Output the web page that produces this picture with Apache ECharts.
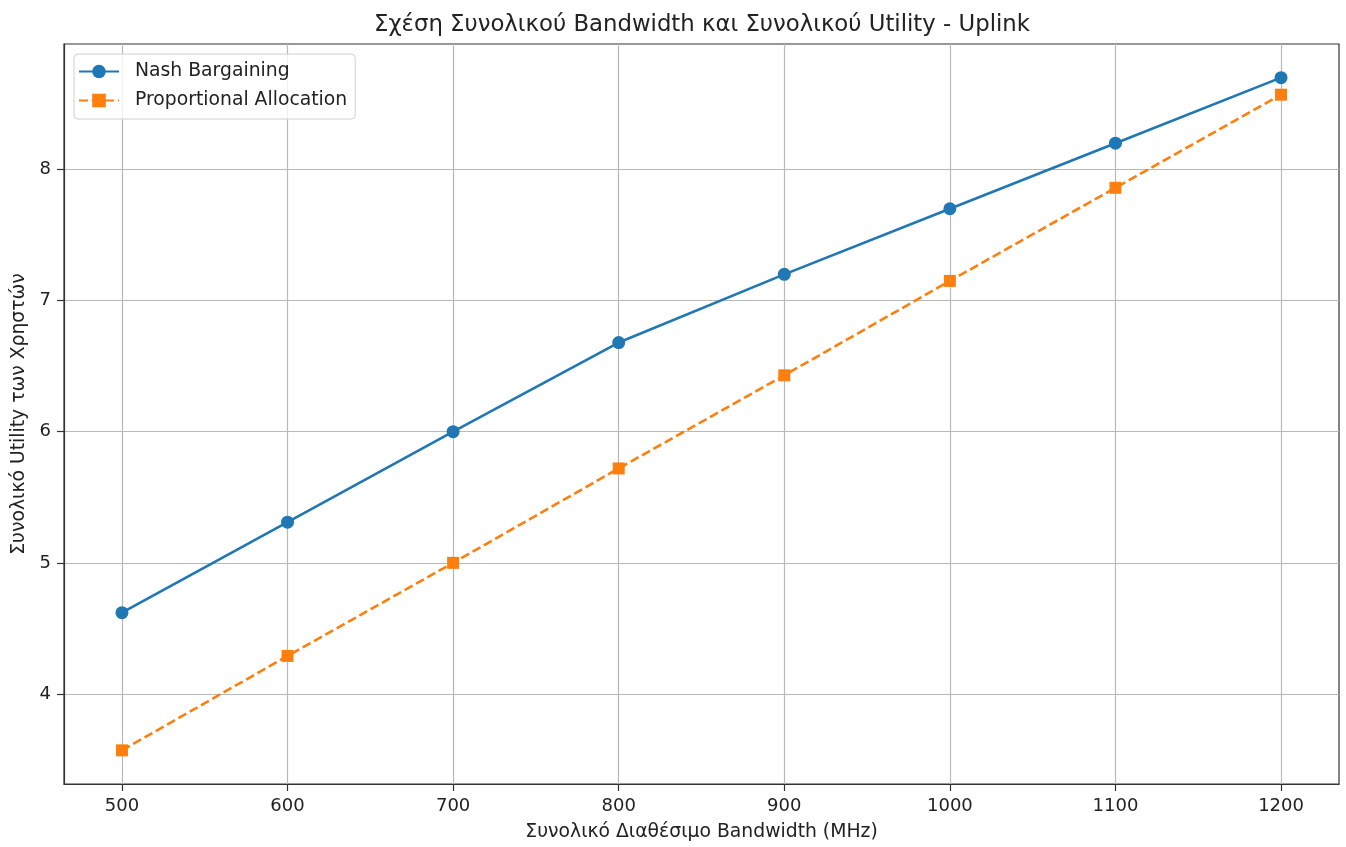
<!DOCTYPE html>
<html>
<head>
<meta charset="utf-8">
<script src="https://cdn.jsdelivr.net/npm/echarts@6/dist/echarts.min.js"></script>
<style>
  html, body { margin: 0; padding: 0; background: #fff; }
  #chart { width: 1346px; height: 847px; }
</style>
</head>
<body>
<div id="chart"></div>
<script>
// Total available bandwidth (MHz)
const bandwidth = [500, 600, 700, 800, 900, 1000, 1100, 1200];
// Total user utility per allocation scheme
const nashBargaining = [4.62, 5.31, 6.00, 6.68, 7.20, 7.70, 8.20, 8.70];
const proportionalAllocation = [3.57, 4.29, 5.00, 5.72, 6.43, 7.15, 7.86, 8.57];
// Tick positions
const xTicks = [500, 600, 700, 800, 900, 1000, 1100, 1200];
const yTicks = [4, 5, 6, 7, 8];

// Axis extents padded by 5% of the data span on each side
function padded(values) {
  const lo = Math.min(...values), hi = Math.max(...values);
  const m = (hi - lo) * 0.05;
  return [lo - m, hi + m];
}
const xExt = padded(bandwidth);
const yExt = padded(nashBargaining.concat(proportionalAllocation));

const FONT = "'DejaVu Sans'";
const INK = '#333333';
const TEXT = '#222222';
const GRID = '#b8b8b8';

const chart = echarts.init(document.getElementById('chart'), null, { renderer: 'canvas' });

chart.setOption({
  backgroundColor: '#ffffff',
  animation: false,
  title: {
    text: 'Σχέση Συνολικού Bandwidth και Συνολικού Utility - Uplink',
    left: 697, top: 9, textAlign: 'center',
    textStyle: { fontFamily: FONT, fontSize: 22.8, fontWeight: 'normal', color: TEXT }
  },
  legend: {
    left: 74, top: 54, orient: 'vertical',
    itemWidth: 40, itemHeight: 17, itemGap: 10,
    padding: [8, 8, 9, 4],
    backgroundColor: 'rgba(255,255,255,0.8)',
    borderColor: '#d0d0d0', borderWidth: 1, borderRadius: 4,
    textStyle: { fontFamily: FONT, fontSize: 18.8, color: TEXT, padding: [0, 0, 0, 11] },
    data: ['Nash Bargaining', 'Proportional Allocation']
  },
  grid: {
    left: 64, right: 7, top: 44, bottom: 63,
    outerBoundsMode: 'none', containLabel: false,
    show: true, borderColor: INK, borderWidth: 1.2, backgroundColor: 'transparent'
  },
  xAxis: {
    type: 'value', min: xExt[0], max: xExt[1],
    name: 'Συνολικό Διαθέσιμο Bandwidth (MHz)',
    nameLocation: 'middle', nameGap: 39,
    nameTextStyle: { fontFamily: FONT, fontSize: 18.8, color: TEXT },
    axisLine: { show: true, onZero: false, lineStyle: { color: INK, width: 1.2 } },
    axisTick: { show: true, length: 7, customValues: xTicks, lineStyle: { color: INK, width: 1.2 } },
    axisLabel: {
      customValues: xTicks, margin: 13, fontFamily: FONT, fontSize: 18, color: TEXT,
      formatter: v => String(v)
    },
    splitLine: { show: true, customValues: xTicks, lineStyle: { color: GRID, width: 1.2 } }
  },
  yAxis: {
    type: 'value', min: yExt[0], max: yExt[1],
    name: 'Συνολικό Utility των Χρηστών',
    nameLocation: 'middle', nameGap: 33, nameRotate: 90,
    nameTextStyle: { fontFamily: FONT, fontSize: 18.8, color: TEXT },
    axisLine: { show: true, onZero: false, lineStyle: { color: INK, width: 1.2 } },
    axisTick: { show: true, length: 7, customValues: yTicks, lineStyle: { color: INK, width: 1.2 } },
    axisLabel: {
      customValues: yTicks, margin: 13, fontFamily: FONT, fontSize: 18, color: TEXT,
      formatter: v => String(v)
    },
    splitLine: { show: true, customValues: yTicks, lineStyle: { color: GRID, width: 1.2 } }
  },
  series: [
    {
      name: 'Nash Bargaining', type: 'line',
      data: bandwidth.map((b, i) => [b, nashBargaining[i]]),
      symbol: 'circle', symbolSize: 13,
      itemStyle: { color: '#1f77b4' },
      lineStyle: { color: '#1f77b4', width: 2.6 },
      z: 3
    },
    {
      name: 'Proportional Allocation', type: 'line',
      data: bandwidth.map((b, i) => [b, proportionalAllocation[i]]),
      symbol: 'rect', symbolSize: 12,
      itemStyle: { color: '#ff7f0e' },
      lineStyle: { color: '#ff7f0e', width: 2.6, type: [9, 4] },
      z: 3
    }
  ]
});
</script>
</body>
</html>
